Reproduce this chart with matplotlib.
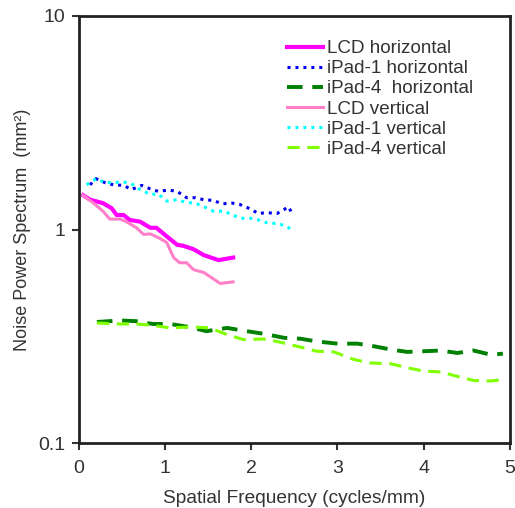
import matplotlib
matplotlib.use("Agg")
import matplotlib.pyplot as plt

plt.rcParams['font.family'] = ['Liberation Sans', 'DejaVu Sans']

lcd_h_x = [0.05, 0.13, 0.28, 0.38, 0.44, 0.52, 0.59, 0.71, 0.83, 0.90, 1.02, 1.14, 1.21, 1.33, 1.45, 1.62, 1.79]
lcd_h_y = [1.45, 1.38, 1.33, 1.26, 1.17, 1.17, 1.11, 1.09, 1.02, 1.02, 0.93, 0.85, 0.84, 0.81, 0.76, 0.72, 0.74]

lcd_v_x = [0.05, 0.17, 0.28, 0.36, 0.48, 0.55, 0.67, 0.75, 0.83, 0.94, 1.02, 1.10, 1.17, 1.25, 1.33, 1.45, 1.64, 1.79]
lcd_v_y = [1.45, 1.33, 1.22, 1.12, 1.12, 1.09, 1.02, 0.95, 0.955, 0.91, 0.87, 0.74, 0.70, 0.70, 0.65, 0.63, 0.56, 0.57]

ipad1_h_x = [0.13, 0.20, 0.30, 0.40, 0.52, 0.61, 0.73, 0.83, 0.92, 1.04, 1.14, 1.25, 1.35, 1.45, 1.56, 1.66, 1.78, 1.87,
             1.99, 2.08, 2.18, 2.30, 2.38, 2.43, 2.47]
ipad1_h_y = [1.62, 1.73, 1.66, 1.62, 1.61, 1.54, 1.61, 1.55, 1.51, 1.53, 1.51, 1.41, 1.41, 1.38, 1.37, 1.32, 1.33, 1.31,
             1.25, 1.19, 1.20, 1.19, 1.24, 1.28, 1.20]

ipad1_v_x = [0.09, 0.20, 0.30, 0.40, 0.52, 0.61, 0.71, 0.83, 0.92, 1.02, 1.14, 1.25, 1.35, 1.45, 1.56, 1.68, 1.79, 1.87,
             1.99, 2.08, 2.20, 2.30, 2.40, 2.47]
ipad1_v_y = [1.62, 1.73, 1.66, 1.66, 1.67, 1.64, 1.54, 1.46, 1.47, 1.36, 1.38, 1.34, 1.33, 1.28, 1.22, 1.22, 1.17, 1.13,
             1.13, 1.11, 1.07, 1.07, 1.04, 1.00]

ipad4_h_x = [0.21, 0.48, 0.67, 0.86, 1.06, 1.29, 1.48, 1.72, 1.95, 2.14, 2.38, 2.57, 2.76, 3.00, 3.23, 3.42, 3.62, 3.81,
             4.00, 4.20, 4.39, 4.58, 4.78, 4.92]
ipad4_h_y = [0.370, 0.376, 0.373, 0.362, 0.362, 0.350, 0.335, 0.347, 0.335, 0.326, 0.312, 0.309, 0.300, 0.293, 0.293,
             0.285, 0.275, 0.268, 0.270, 0.272, 0.265, 0.272, 0.260, 0.263]

ipad4_v_x = [0.21, 0.48, 0.67, 0.86, 1.06, 1.29, 1.52, 1.72, 1.91, 2.14, 2.33, 2.53, 2.76, 2.96, 3.19, 3.38, 3.62, 3.81,
             4.00, 4.20, 4.39, 4.58, 4.78, 4.92]
ipad4_v_y = [0.366, 0.362, 0.362, 0.357, 0.347, 0.351, 0.347, 0.323, 0.306, 0.308, 0.298, 0.285, 0.270, 0.268, 0.247,
             0.238, 0.236, 0.226, 0.218, 0.216, 0.206, 0.197, 0.196, 0.199]

labels = ["LCD horizontal", "iPad-1 horizontal", "iPad-4  horizontal", "LCD vertical", "iPad-1 vertical", "iPad-4 vertical"]
x_ticks = [0, 1, 2, 3, 4, 5]
y_ticks = [0.1, 1, 10]
y_ticklabels = ["0.1", "1", "10"]

fig = plt.figure(figsize=(5.15, 5.08), dpi=100)
ax = fig.add_axes([0.153, 0.127, 0.837, 0.842])

ax.plot(lcd_h_x, lcd_h_y, color='#FF00FF', lw=3, label=labels[0])
ax.plot(ipad1_h_x, ipad1_h_y, color='#0000EE', lw=2.2, linestyle=(0, (1, 1.6)), label=labels[1])
ax.plot(ipad4_h_x, ipad4_h_y, color='#008000', lw=2.8, linestyle=(0, (4, 2.5)), label=labels[2])
ax.plot(lcd_v_x, lcd_v_y, color='#FF80C8', lw=2.2, label=labels[3])
ax.plot(ipad1_v_x, ipad1_v_y, color='#00FFFF', lw=2.2, linestyle=(0, (1, 1.6)), label=labels[4])
ax.plot(ipad4_v_x, ipad4_v_y, color='#80FF00', lw=2.2, linestyle=(0, (4, 2.5)), label=labels[5])

ax.set_yscale('log')
ax.set_xlim(0, 5)
ax.set_ylim(0.1, 10)
ax.set_xticks(x_ticks)
ax.set_xticklabels([str(t) for t in x_ticks])
ax.set_yticks(y_ticks)
ax.set_yticklabels(y_ticklabels)
ax.minorticks_off()
ax.tick_params(axis='both', direction='out', length=5, width=1.5, labelsize=14, color='#333333', labelcolor='#333333')
ax.tick_params(axis='x', pad=7)
ax.tick_params(axis='y', pad=5)
for sp in ax.spines.values():
    sp.set_linewidth(2)
    sp.set_color('#222222')

ax.set_xlabel("Spatial Frequency (cycles/mm)", fontsize=13.8, color='#333333', labelpad=9)
ax.set_ylabel("Noise Power Spectrum  (mm\u00b2)", fontsize=13, color='#333333', labelpad=5)

leg = ax.legend(loc='upper left', bbox_to_anchor=(0.484, 0.943), frameon=False, fontsize=13.6,
                handlelength=1.9, handletextpad=0.2, labelspacing=0.15, borderpad=0, borderaxespad=0)
for t in leg.get_texts():
    t.set_color('#333333')

fig.savefig("out.png", dpi=100)
